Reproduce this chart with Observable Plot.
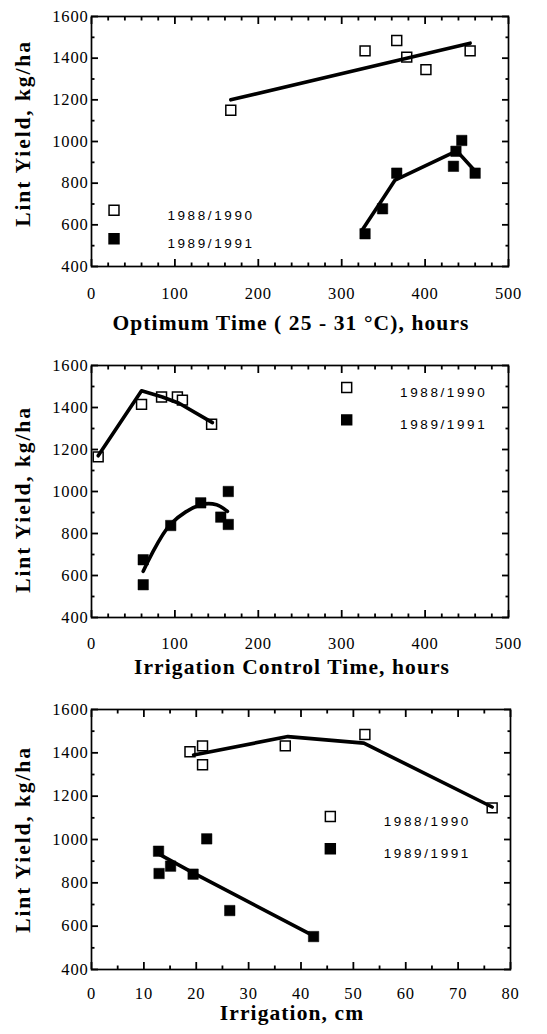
<!DOCTYPE html>
<html><head><meta charset="utf-8">
<script src="https://cdn.jsdelivr.net/npm/d3@7"></script>
<script src="https://cdn.jsdelivr.net/npm/@observablehq/plot@0.6"></script>
<style>
body{margin:0;background:#fff;width:547px;overflow:hidden}
#chart svg{display:block}
</style></head><body><div id="chart"></div>
<script>
// ---- shared ----
const seriesNames = ["1988/1990", "1989/1991"];
const yTitle = "Lint Yield, kg/ha";
const yMajor = [400, 600, 800, 1000, 1200, 1400, 1600];
const yMinor = [500, 700, 900, 1100, 1300, 1500];

// ---- panel 1: Optimum time ----
const p1Title = "Optimum Time ( 25 - 31 °C), hours";
const p1XMajor = [0, 100, 200, 300, 400, 500];
const p1XMinor = [20, 40, 60, 80, 120, 140, 160, 180, 220, 240, 260, 280, 320, 340, 360, 380, 420, 440, 460, 480];
const p1OpenX = [167, 328, 366, 378, 401, 454];
const p1OpenY = [1150, 1435, 1485, 1405, 1345, 1435];
const p1FilledX = [328, 349, 366, 434, 437, 444, 460];
const p1FilledY = [557, 677, 848, 881, 953, 1005, 848];
const p1OpenLineX = [167, 454];
const p1OpenLineY = [1200, 1472];
const p1FilledLineX = [324, 346, 364, 438, 459];
const p1FilledLineY = [572, 705, 815, 955, 862];
const p1LegendSymX = 27;
const p1LegendTextX = 91;
const p1LegendY = [670, 533];

// ---- panel 2: Irrigation control time ----
const p2Title = "Irrigation Control Time, hours";
const p2XMajor = [0, 100, 200, 300, 400, 500];
const p2XMinor = p1XMinor;
const p2OpenX = [8, 60, 84, 103, 109, 144];
const p2OpenY = [1165, 1415, 1450, 1450, 1435, 1320];
const p2FilledX = [62, 62, 95, 131, 155, 164, 164];
const p2FilledY = [675, 556, 838, 946, 878, 1000, 843];
const p2OpenLineX = [8, 60, 85, 105, 145];
const p2OpenLineY = [1170, 1480, 1450, 1420, 1328];
const p2FilledLineX = [62, 95, 131, 150, 163];
const p2FilledLineY = [620, 845, 937, 937, 905];
const p2LegendSymX = 306;
const p2LegendTextX = 370;
const p2LegendY = [1495, 1341];

// ---- panel 3: Irrigation ----
const p3Title = "Irrigation, cm";
const p3XMajor = [0, 10, 20, 30, 40, 50, 60, 70, 80];
const p3XMinor = [5, 15, 25, 35, 45, 55, 65, 75];
const p3OpenX = [18.8, 21.2, 21.2, 37, 52.2, 76.5];
const p3OpenY = [1405, 1432, 1345, 1432, 1485, 1146];
const p3FilledX = [12.8, 12.9, 15.1, 19.4, 22, 26.4, 42.4];
const p3FilledY = [946, 843, 877, 840, 1003, 672, 552];
const p3OpenLineX = [19.5, 37.5, 52, 76.5];
const p3OpenLineY = [1390, 1475, 1445, 1150];
const p3FilledLineX = [12.8, 19.5, 42.4];
const p3FilledLineY = [934, 845, 555];
const p3LegendSymX = 45.6;
const p3LegendTextX = 55.8;
const p3LegendY = [1106, 957];

function zip(xs, ys) { return xs.map((x, i) => ({x, y: ys[i]})); }

function panel(cfg) {
  const xMax = cfg.xMajor[cfg.xMajor.length - 1];
  const major = 7, minor = 3.5;
  const tk = {fill: "none", label: null, stroke: "black", strokeWidth: 1.8};
  const open = zip(cfg.openX, cfg.openY);
  const filled = zip(cfg.filledX, cfg.filledY);
  const legend = seriesNames.map((name, i) => ({name, y: cfg.legendY[i], open: i === 0}));
  const svg = Plot.plot({
    width: 547,
    height: cfg.height,
    marginTop: cfg.marginTop,
    marginRight: cfg.marginRight,
    marginBottom: cfg.marginBottom,
    marginLeft: cfg.marginLeft,
    x: {domain: [0, xMax]},
    y: {domain: [400, 1600]},
    style: {fontFamily: "'Liberation Serif', serif", fontSize: "16.5px", background: "white", overflow: "visible", color: "black"},
    marks: [
      Plot.axisX({anchor: "bottom", ticks: cfg.xMinor, tickSize: -minor, ...tk}),
      Plot.axisX({anchor: "bottom", ticks: cfg.xMajor, tickSize: -major, ...tk}),
      Plot.axisX({anchor: "top", ticks: cfg.xMinor, tickSize: -minor, ...tk}),
      Plot.axisX({anchor: "top", ticks: cfg.xMajor, tickSize: -major, ...tk}),
      Plot.axisY({anchor: "left", ticks: yMinor, tickSize: -minor, ...tk}),
      Plot.axisY({anchor: "left", ticks: yMajor, tickSize: -major, ...tk}),
      Plot.axisY({anchor: "right", ticks: yMinor, tickSize: -minor, ...tk}),
      Plot.axisY({anchor: "right", ticks: yMajor, tickSize: -major, ...tk}),
      Plot.axisX({ticks: cfg.xMajor, tickSize: 0, tickPadding: cfg.xPad, label: null, tickFormat: d => String(d)}),
      Plot.axisY({ticks: yMajor, tickSize: 0, tickPadding: 3, label: null, tickFormat: d => String(d)}),
      Plot.frame({stroke: "black", strokeWidth: 1.7}),
      Plot.dot(open, {x: "x", y: "y", symbol: "square", r: 5.6, fill: "white", stroke: "black", strokeWidth: 1.5}),
      Plot.dot(filled, {x: "x", y: "y", symbol: "square", r: 5.9, fill: "black", stroke: "black", strokeWidth: 0.5}),
      Plot.line(zip(cfg.openLineX, cfg.openLineY), {x: "x", y: "y", stroke: "black", strokeWidth: 3.6, curve: cfg.openCurve || "linear"}),
      Plot.line(zip(cfg.filledLineX, cfg.filledLineY), {x: "x", y: "y", stroke: "black", strokeWidth: 3.6, curve: cfg.filledCurve || "linear"}),
      Plot.dot(legend, {x: () => cfg.legendSymX, y: "y", symbol: "square", r: 5.6, fill: d => d.open ? "white" : "black", stroke: "black", strokeWidth: 1.5}),
      Plot.text(legend, {x: () => cfg.legendTextX, y: "y", text: "name", textAnchor: "start", dy: 5, fontFamily: "'Liberation Sans', Arial, sans-serif", fontSize: 13.5, fill: "black"}),
      Plot.text([cfg.title], {text: d => d, frameAnchor: "bottom", textAnchor: "middle", lineAnchor: "middle", dx: cfg.titleDx, dy: cfg.titleDy, fontFamily: "'Liberation Serif', serif", fontWeight: "bold", fontSize: 21.5, fill: "black"}),
      Plot.text([yTitle], {text: d => d, frameAnchor: "left", textAnchor: "middle", lineAnchor: "middle", dx: -68, dy: cfg.yTitleDy, rotate: -90, fontFamily: "'Liberation Serif', serif", fontWeight: "bold", fontSize: 21.5, fill: "black"})
    ]
  });
  // letter spacing to mimic the wider original typefaces
  d3.select(svg).selectAll("text").each(function() {
    const t = this.textContent;
    let ls = null;
    if (seriesNames.includes(t)) ls = "2.6px";
    else if (t === yTitle) ls = "1.9px";
    else if (t === cfg.title) ls = "1.1px";
    else if (/^\d+$/.test(t)) ls = "0.8px";
    if (ls) this.style.letterSpacing = ls;
  });
  return svg;
}

const root = document.getElementById("chart");
root.append(panel({
  height: 340, marginTop: 16, marginRight: 39, marginBottom: 74, marginLeft: 91,
  xMajor: p1XMajor, xMinor: p1XMinor, title: p1Title, titleDx: -9, titleDy: 57, yTitleDy: -8, xPad: 21,
  openX: p1OpenX, openY: p1OpenY, filledX: p1FilledX, filledY: p1FilledY,
  openLineX: p1OpenLineX, openLineY: p1OpenLineY, filledLineX: p1FilledLineX, filledLineY: p1FilledLineY,
  legendSymX: p1LegendSymX, legendTextX: p1LegendTextX, legendY: p1LegendY
}));
root.append(panel({
  height: 340, marginTop: 25, marginRight: 39, marginBottom: 63, marginLeft: 91,
  xMajor: p2XMajor, xMinor: p2XMinor, title: p2Title, titleDx: -8, titleDy: 50, yTitleDy: 8, xPad: 20,
  openX: p2OpenX, openY: p2OpenY, filledX: p2FilledX, filledY: p2FilledY,
  openLineX: p2OpenLineX, openLineY: p2OpenLineY, filledLineX: p2FilledLineX, filledLineY: p2FilledLineY,
  filledCurve: "catmull-rom",
  legendSymX: p2LegendSymX, legendTextX: p2LegendTextX, legendY: p2LegendY
}));
root.append(panel({
  height: 354, marginTop: 29, marginRight: 37, marginBottom: 65, marginLeft: 91,
  xMajor: p3XMajor, xMinor: p3XMinor, title: p3Title, titleDx: -9, titleDy: 44, yTitleDy: 0, xPad: 18,
  openX: p3OpenX, openY: p3OpenY, filledX: p3FilledX, filledY: p3FilledY,
  openLineX: p3OpenLineX, openLineY: p3OpenLineY, filledLineX: p3FilledLineX, filledLineY: p3FilledLineY,
  legendSymX: p3LegendSymX, legendTextX: p3LegendTextX, legendY: p3LegendY
}));
</script>
</body></html>
